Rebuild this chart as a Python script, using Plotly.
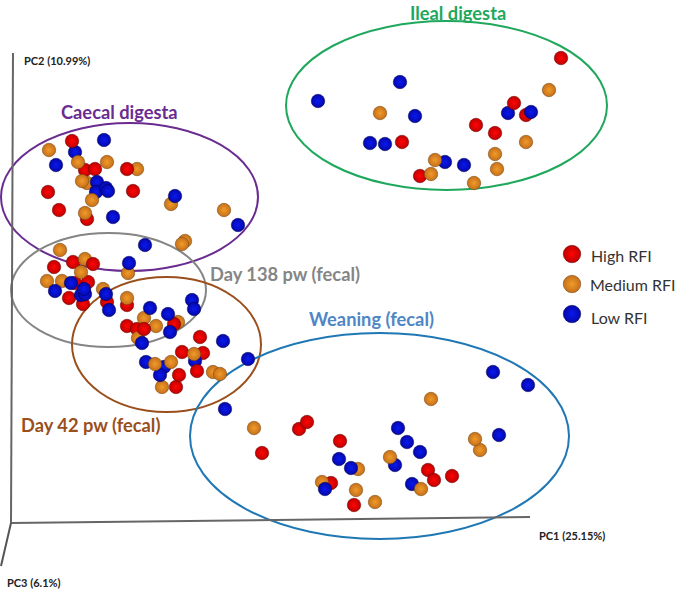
import plotly.graph_objects as go

# Sample scores per group: (PC1 position, PC2 position, depth order)
HIGH_RFI = [
    (561,58,0),(514,103,3),(526,115,0),(476,125,0),(495,133,0),(402,142,0),(420,176,0),
    (262,453,0),(299,429,0),(307,422,1),(340,441,0),(331,483,0),(354,505,0),(428,470,0),(434,480,1),(452,476,0),
    (72,141,3),(85,170,0),(95,169,0.5),(127,169,2),(48,192,0),(133,191,0),(59,210,0),(87,219,0),
    (54,267,0),(73,262,0),(93,264,2),(88,282,0),(75,283,0),(69,298,0),(83,304,0),(107,302,0),(127,305,0),
    (127,326,0),(137,329,0),(144,329,1.5),(174,324,1.5),(200,337,0),(182,352,0),(203,353,0),(197,371,3),(179,375,3),(176,387,0),
]
MEDIUM_RFI = [
    (380,113,1),(435,160,3),(431,174,1),(495,154,1),(497,169,1),(474,183,1),(526,142,1),(549,90,1),
    (254,428,1),(431,399,1),(475,439,1.5),(480,450,1),(390,457,3),(358,469,1),(322,482,1),(356,490,1),(375,502,1),(421,489,3),(213,372,1),(220,374,1.5),
    (49,150,1),(78,162,3),(107,162,1),(137,169,1),(82,181,1.5),(87,183,1),(92,200,3),(85,213,1),(171,204,1),(224,210,1),(185,241,1),(182,244,1.5),
    (60,250,1),(85,259,1),(81,272,3),(47,281,1),(62,281,1),(103,289,1),(127,298,1),(128,273,1),
    (144,318,1),(156,326,1),(178,322,1),(138,338,1),(194,354,3),(155,364,3),(171,362,3),(162,387,1),
]
LOW_RFI = [
    (318,101,2),(400,82,2),(415,116,2),(370,143,2),(385,144,2),(445,162,2),(464,165,2),(508,113,2),(531,112,2),
    (248,359,2),(225,409,2),(493,372,2),(528,385,2),(499,435,2),(398,428,2),(407,442,2),(420,452,2),(395,465,2),(339,459,2),(351,468,2),(325,489,4),(412,484,2),
    (104,140,2),(75,152,2),(56,165,2),(97,182,2),(96,192,2),(106,188,2),(108,191,2.5),(175,196,2),(113,217,2),(238,225,2),(145,245,2),
    (129,263,2),(71,283,2),(55,291,2),(84,289,4),(81,295,2),(85,294,2),(106,294,2),(109,310,2),
    (150,308,2),(168,314,2),(192,300,2),(194,309,2),(170,332,2),(142,343,2),(223,341,2),(146,362,2),(195,361,2),(164,367,2),(160,375,2.5),
]

SERIES_NAMES = ["High RFI", "Medium RFI", "Low RFI"]
SERIES_BRIGHT = ["#ff0505", "#f29a2a", "#0a18f0"]
SERIES_EDGES = ["#c00000", "#c4701a", "#0408a8"]
SERIES_RIMS = ["#600000", "#70400a", "#000050"]

LEGEND_X = [572, 572, 572]
LEGEND_Y = [254, 284, 314]
LEGEND_TEXT_X = [589, 588, 589]
LEGEND_TEXT_Y = [255, 284, 317]

# name, left, right, top, bottom, colour
GROUP_ELLIPSES = [
    ("Ileal digesta", 286, 607, 21, 190, "#1fa85c"),
    ("Caecal digesta", 1, 258, 123, 271, "#6a2c91"),
    ("Day 138 pw (fecal)", 11, 206, 233, 347, "#858585"),
    ("Day 42 pw (fecal)", 72, 261, 277, 412, "#9a4f1c"),
    ("Weaning (fecal)", 190, 569, 333, 539, "#1f78b4"),
]
GROUP_LABELS = [
    ("Ileal digesta", 458, 13, "#1fa85c"),
    ("Caecal digesta", 119, 112, "#6a2c91"),
    ("Day 138 pw (fecal)", 285, 274, "#858585"),
    ("Day 42 pw (fecal)", 90, 425, "#9a4f1c"),
    ("Weaning (fecal)", 371, 319, "#4f86c6"),
]
AXIS_LINES = [
    (13, 53, 11, 523, "#666666"),
    (11, 523, 530, 517, "#666666"),
    (11, 523, 1, 566, "#555555"),
]
AXIS_LABELS = [
    ("PC2 (10.99%)", 22, 60, "left"),
    ("PC1 (25.15%)", 537, 535, "left"),
    ("PC3 (6.1%)", 5, 582, "left"),
]

fig = go.Figure()

# Merge the three series into one trace so depth can interleave colours
pts = []
for i, s in enumerate([HIGH_RFI, MEDIUM_RFI, LOW_RFI]):
    for p in s:
        pts.append((p[2], p[0], p[1], i))
pts.sort(key=lambda t: t[0])

fig.add_trace(go.Scatter(
    x=[p[1] for p in pts], y=[p[2] for p in pts], mode="markers",
    marker=dict(size=13.5,
                color=[SERIES_EDGES[p[3]] for p in pts],
                line=dict(width=0.5, color=[SERIES_RIMS[p[3]] for p in pts]),
                gradient=dict(type="radial", color=[SERIES_BRIGHT[p[3]] for p in pts])),
    hoverinfo="skip", showlegend=False,
))
fig.add_trace(go.Scatter(
    x=LEGEND_X, y=LEGEND_Y, mode="markers",
    marker=dict(size=17.5, color=SERIES_EDGES, line=dict(width=0.5, color=SERIES_RIMS),
                gradient=dict(type="radial", color=SERIES_BRIGHT)),
    hoverinfo="skip", showlegend=False,
))

shapes = []
for name, x0, x1, y0, y1, c in GROUP_ELLIPSES:
    shapes.append(dict(type="circle", xref="x", yref="y", x0=x0, x1=x1, y0=y0, y1=y1,
                       line=dict(color=c, width=2), layer="below"))
for x0, y0, x1, y1, c in AXIS_LINES:
    shapes.append(dict(type="line", xref="x", yref="y", x0=x0, x1=x1, y0=y0, y1=y1,
                       line=dict(color=c, width=2), layer="below"))

ann = []
for text, x, y, c in GROUP_LABELS:
    ann.append(dict(x=x, y=y, text=f"<b>{text}</b>", showarrow=False, xanchor="center", yanchor="middle",
                    font=dict(family="Lato", size=18.3, color=c)))
for text, x, y, a in AXIS_LABELS:
    ann.append(dict(x=x, y=y, text=f"<b>{text}</b>", showarrow=False, xanchor=a, yanchor="middle",
                    font=dict(family="Lato", size=11, color="#222222")))
for n, x, y in zip(SERIES_NAMES, LEGEND_TEXT_X, LEGEND_TEXT_Y):
    ann.append(dict(x=x, y=y, text=n, showarrow=False, xanchor="left", yanchor="middle",
                    font=dict(family="Lato", size=16, color="#333333")))

fig.update_layout(
    width=675, height=589, margin=dict(l=0, r=0, t=0, b=0),
    paper_bgcolor="white", plot_bgcolor="white", showlegend=False,
    xaxis=dict(range=[0, 675], visible=False, fixedrange=True),
    yaxis=dict(range=[589, 0], visible=False, fixedrange=True),
    shapes=shapes, annotations=ann,
)
fig.write_html("out.html", config={"displayModeBar": False},
               post_script="document.body.style.margin='0';")
